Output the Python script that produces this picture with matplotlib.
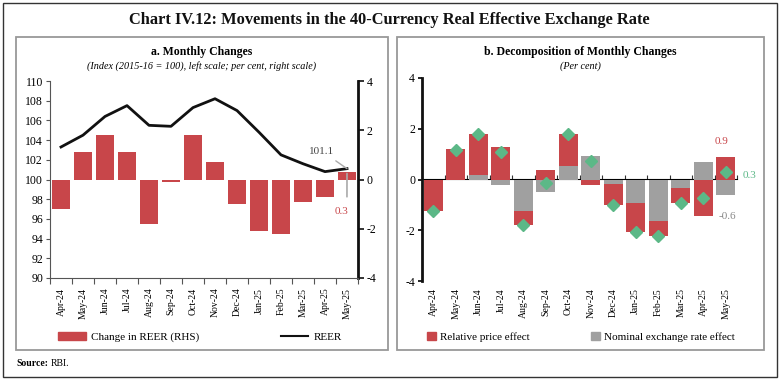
import numpy as np
import matplotlib.pyplot as plt
from matplotlib.patches import Rectangle, Patch
from matplotlib.lines import Line2D

plt.rcParams['font.family'] = ['Liberation Serif', 'DejaVu Serif']
plt.rcParams['axes.unicode_minus'] = False

# ------------------------
# Data
# ------------------------
months = ["Apr-24", "May-24", "Jun-24", "Jul-24", "Aug-24", "Sep-24", "Oct-24",
          "Nov-24", "Dec-24", "Jan-25", "Feb-25", "Mar-25", "Apr-25", "May-25"]

reer = [103.3, 104.5, 106.4, 107.5, 105.5, 105.4, 107.3,
        108.2, 107.0, 104.8, 102.5, 101.6, 100.8, 101.1]
reer_change = [-1.2, 1.1, 1.8, 1.1, -1.8, -0.1, 1.8,
               0.7, -1.0, -2.1, -2.2, -0.9, -0.7, 0.3]

price_effect = [-1.2, 1.2, 1.6, 1.3, -0.55, 0.36, 1.25,
                -0.2, -0.83, -1.17, -0.58, -0.61, -1.42, 0.9]
nominal_effect = [-0.03, -0.03, 0.19, -0.21, -1.24, -0.5, 0.55,
                  0.91, -0.17, -0.91, -1.63, -0.32, 0.69, -0.6]

RED = '#c8464a'
GREY = '#a0a0a0'
GREEN = '#5cb887'

W, H = 779, 380
fig = plt.figure(figsize=(W / 100, H / 100), dpi=100)


def box(x0, y0, x1, y1):
    # pixel box -> figure fraction
    return [x0 / W, 1 - y1 / H, (x1 - x0) / W, (y1 - y0) / H]


# frames
fig.patches.append(Rectangle((3 / W, 1 - 377 / H), 774 / W, 374 / H, transform=fig.transFigure,
                             fill=False, edgecolor='#333333', lw=1.0))
fig.patches.append(Rectangle((16 / W, 1 - 350 / H), 372 / W, 313 / H, transform=fig.transFigure,
                             fill=False, edgecolor='#999999', lw=1.3))
fig.patches.append(Rectangle((397 / W, 1 - 350 / H), 367 / W, 313 / H, transform=fig.transFigure,
                             fill=False, edgecolor='#999999', lw=1.3))

fig.text(0.5, 1 - 20 / H, "Chart IV.12: Movements in the 40-Currency Real Effective Exchange Rate",
         ha='center', va='center', fontsize=11.8, fontweight='bold', color='#111111')
fig.text(16 / W, 1 - 363 / H, "Source:", ha='left', va='center', fontsize=7, fontweight='bold')
fig.text(51 / W, 1 - 363 / H, "RBI.", ha='left', va='center', fontsize=7)

x = np.arange(len(months))

# ------------------------
# Panel a
# ------------------------
ax1 = fig.add_axes(box(50, 81, 358, 278))
ax2 = ax1.twinx()
ax1.set_zorder(ax2.get_zorder() + 1)
ax1.patch.set_visible(False)

ax2.bar(x, reer_change, width=0.8, color=RED)
ax1.plot(x, reer, color='#111111', lw=2)

ax1.set_xlim(-0.5, len(months) - 0.5)
ax1.set_ylim(90, 110)
ax1.set_yticks(np.arange(90, 111, 2))
ax2.set_ylim(-4, 4)
ax2.set_yticks([-4, -2, 0, 2, 4])

ax1.set_xticks(x)
ax1.set_xticklabels(months, rotation=90, fontsize=7)
ax1.set_xticks(np.arange(-0.5, len(months)), minor=True)
ax1.tick_params(axis='x', which='major', length=0, pad=7)
ax1.tick_params(axis='x', which='minor', length=4, width=0.8, color='#555555')
ax1.tick_params(axis='y', labelsize=8.5, length=3, width=0.8, color='#555555', pad=2)
ax2.tick_params(axis='y', labelsize=8.5, length=4, width=1.2, color='#111111', pad=2)

ax1.spines['top'].set_visible(False)
ax2.spines['top'].set_visible(False)
ax1.spines['left'].set_color('#555555')
ax1.spines['bottom'].set_color('#555555')
ax1.spines['right'].set_visible(False)
ax2.spines['left'].set_visible(False)
ax2.spines['bottom'].set_visible(False)
ax2.spines['right'].set_linewidth(2)
ax2.spines['right'].set_color('#111111')

ax1.annotate(f"{reer[-1]:.1f}", xy=(x[-1], reer[-1]), xytext=(-18, 12), textcoords='offset points',
             ha='center', va='center', fontsize=8, color='#444444',
             arrowprops=dict(arrowstyle='-', color='#aaaaaa', lw=1, shrinkA=2, shrinkB=0,
                             relpos=(0.8, 0.0)))
ax2.annotate(f"{reer_change[-1]:.1f}", xy=(x[-1], reer_change[-1]), xytext=(-4, -28),
             textcoords='offset points', ha='center', va='center', fontsize=8, color=RED,
             arrowprops=dict(arrowstyle='-', color='#aaaaaa', lw=1.2, shrinkA=5, shrinkB=1,
                             relpos=(0.9, 1.0)))

fig.text(202 / W, 1 - 52 / H, "a. Monthly Changes", ha='center', va='center',
         fontsize=8.5, fontweight='bold')
fig.text(202 / W, 1 - 66 / H, "(Index (2015-16 = 100), left scale; per cent, right scale)",
         ha='center', va='center', fontsize=7.3, style='italic')

leg_a = [Patch(color=RED, label="Change in REER (RHS)"),
         Line2D([], [], color='#111111', lw=1.5, label="REER")]
fig.legend(handles=leg_a, loc='center', bbox_to_anchor=(200 / W, 1 - 337 / H), ncol=2,
           frameon=False, fontsize=8, handlelength=2.5, handleheight=0.7,
           columnspacing=7.3, handletextpad=0.5)

# ------------------------
# Panel b
# ------------------------
bx = fig.add_axes(box(422, 78, 737, 281))
price = np.array(price_effect)
nominal = np.array(nominal_effect)
total = price + nominal
red_bottom = np.where(np.sign(price) == np.sign(nominal), nominal, 0)

bx.bar(x, nominal, width=0.83, color=GREY, zorder=2)
bx.bar(x, price, bottom=red_bottom, width=0.83, color=RED, zorder=2)
bx.plot(x, total, linestyle='none', marker='D', markersize=6.5, color=GREEN, zorder=4)

bx.set_xlim(-0.5, len(months) - 0.5)
bx.set_ylim(-4, 4)
bx.set_yticks([-4, -2, 0, 2, 4])
bx.tick_params(axis='y', labelsize=8.5, length=3, width=1.2, pad=2)
bx.set_xticks(x)
bx.set_xticklabels(months, rotation=90, fontsize=7)
bx.tick_params(axis='x', length=0, pad=5)
for s in ['top', 'right', 'bottom']:
    bx.spines[s].set_visible(False)
bx.spines['left'].set_linewidth(2)
bx.spines['left'].set_color('#111111')

zero = bx.secondary_xaxis(0.5)
zero.set_xticks(x, labels=[])
zero.set_xticks(np.arange(-0.5, len(months)), minor=True)
zero.tick_params(axis='x', which='major', length=0)
zero.tick_params(axis='x', which='minor', length=3, width=0.8, color='#333333')
zero.spines['bottom'].set_linewidth(1.8)
zero.spines['bottom'].set_color('#111111')
zero.spines['bottom'].set_zorder(3)

bx.annotate(f"{price[-1]:.1f}", xy=(x[-1], price[-1]), xytext=(-3, 11), textcoords='offset points',
            ha='center', va='center', fontsize=8, color=RED)
bx.annotate(f"{total[-1]:.1f}", xy=(x[-1], total[-1]), xytext=(17, -2.5), textcoords='offset points',
            ha='center', va='center', fontsize=8, color=GREEN)
bx.annotate(f"{nominal[-1]:.1f}", xy=(x[-1], nominal[-1]), xytext=(1, -16), textcoords='offset points',
            ha='center', va='center', fontsize=8, color='#888888')

fig.text(580 / W, 1 - 52 / H, "b. Decomposition of Monthly Changes", ha='center', va='center',
         fontsize=8.5, fontweight='bold')
fig.text(580 / W, 1 - 66 / H, "(Per cent)", ha='center', va='center', fontsize=7.3, style='italic')

leg_b = [Patch(color=RED, label="Relative price effect"),
         Patch(color=GREY, label="Nominal exchange rate effect")]
fig.legend(handles=leg_b, loc='center', bbox_to_anchor=(581 / W, 1 - 337 / H), ncol=2,
           frameon=False, fontsize=8, handlelength=0.8, handleheight=0.8,
           columnspacing=5.5, handletextpad=0.4)

fig.savefig("out.png", dpi=100)
